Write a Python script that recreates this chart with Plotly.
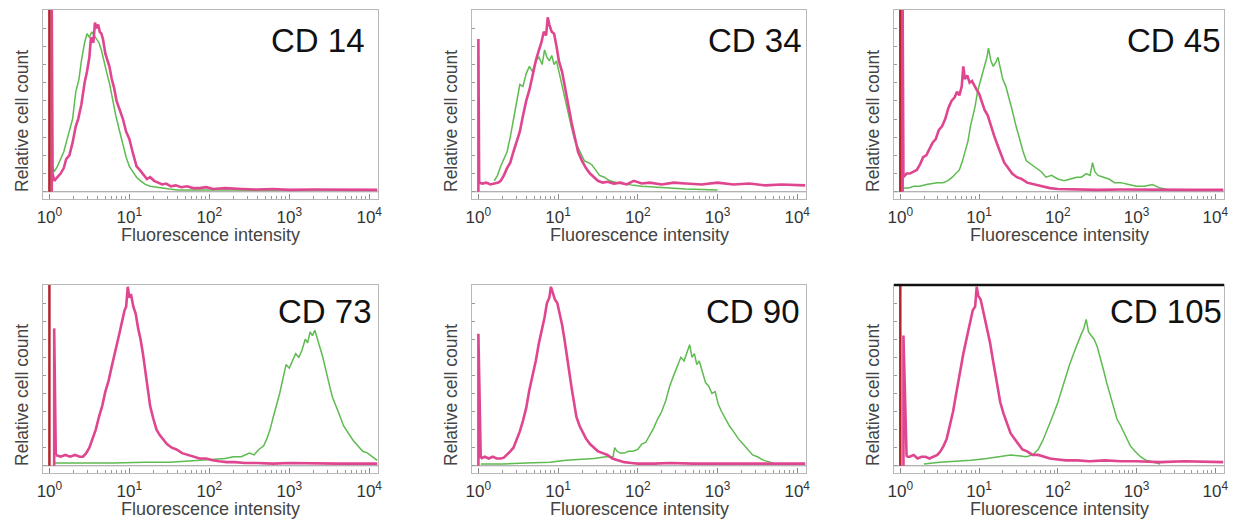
import plotly.graph_objects as go

# ---------------- data (x values are log10 fluorescence intensity) ----------------
MARKERS = ["CD 14", "CD 34", "CD 45", "CD 73", "CD 90", "CD 105"]

CD14_PINK_LOG = [0.04,0.06,0.10,0.14,0.18,0.21,0.25,0.29,0.33,0.36,0.40,0.44,0.47,0.50,0.52,0.55,0.57,0.59,0.61,0.63,0.65,0.67,0.70,0.73,0.75,0.78,0.81,0.84,0.88,0.92,0.96,1.00,1.04,1.09,1.13,1.18,1.22,1.26,1.31,1.36,1.41,1.46,1.52,1.58,1.65,1.72,1.80,1.88,1.96,2.05,2.2,2.4,2.6,2.8,3.0,3.3,3.6,3.9,4.1]
CD14_PINK_CNT = [0.10,0.06,0.08,0.10,0.13,0.18,0.20,0.27,0.36,0.40,0.48,0.60,0.66,0.74,0.85,0.82,0.93,0.90,0.92,0.88,0.87,0.84,0.76,0.72,0.69,0.62,0.57,0.50,0.45,0.40,0.33,0.29,0.22,0.14,0.12,0.09,0.07,0.08,0.06,0.05,0.04,0.045,0.03,0.035,0.025,0.03,0.02,0.02,0.025,0.015,0.02,0.015,0.012,0.015,0.01,0.012,0.01,0.012,0.01]
CD14_GREEN_LOG = [0.04,0.06,0.10,0.14,0.18,0.21,0.25,0.29,0.33,0.37,0.40,0.44,0.47,0.50,0.53,0.56,0.59,0.62,0.65,0.68,0.72,0.75,0.79,0.83,0.88,0.92,0.96,1.00,1.05,1.09,1.14,1.20,1.26,1.33,1.40,1.50,1.6,1.8,2.0,2.3,2.6,3.0,3.4,3.8,4.1]
CD14_GREEN_CNT = [0.14,0.11,0.14,0.18,0.22,0.27,0.33,0.40,0.55,0.62,0.72,0.82,0.87,0.85,0.88,0.86,0.84,0.82,0.78,0.72,0.65,0.60,0.50,0.42,0.33,0.26,0.19,0.14,0.11,0.08,0.06,0.04,0.03,0.025,0.02,0.015,0.01,0.012,0.01,0.01,0.008,0.01,0.008,0.01,0.01]

CD34_PINK_LOG = [0.01,0.05,0.10,0.15,0.20,0.25,0.28,0.32,0.36,0.40,0.44,0.48,0.52,0.56,0.60,0.64,0.68,0.72,0.76,0.79,0.82,0.85,0.87,0.89,0.92,0.95,0.98,1.01,1.05,1.09,1.13,1.17,1.21,1.25,1.30,1.35,1.40,1.45,1.50,1.56,1.62,1.70,1.78,1.86,1.95,2.05,2.15,2.3,2.45,2.6,2.8,3.0,3.2,3.4,3.6,3.8,4.0,4.1]
CD34_PINK_CNT = [0.05,0.045,0.05,0.04,0.045,0.05,0.06,0.09,0.13,0.16,0.22,0.28,0.33,0.42,0.50,0.56,0.64,0.72,0.78,0.82,0.88,0.86,0.96,0.92,0.88,0.87,0.80,0.72,0.66,0.56,0.46,0.38,0.30,0.22,0.17,0.13,0.10,0.08,0.06,0.05,0.055,0.045,0.05,0.04,0.06,0.045,0.05,0.04,0.05,0.045,0.04,0.05,0.04,0.045,0.035,0.04,0.035,0.035]
CD34_GREEN_LOG = [0.20,0.24,0.28,0.32,0.36,0.40,0.44,0.48,0.52,0.56,0.60,0.64,0.68,0.72,0.76,0.80,0.83,0.86,0.89,0.92,0.95,0.98,1.01,1.05,1.09,1.13,1.17,1.21,1.25,1.29,1.33,1.38,1.42,1.47,1.52,1.58,1.65,1.74,1.85,1.95,2.05,2.2,2.4,2.6,2.8,3.0]
CD34_GREEN_CNT = [0.06,0.09,0.14,0.18,0.22,0.30,0.40,0.50,0.59,0.58,0.65,0.69,0.66,0.72,0.74,0.70,0.78,0.74,0.72,0.75,0.70,0.72,0.66,0.59,0.50,0.42,0.35,0.28,0.24,0.20,0.17,0.16,0.15,0.12,0.09,0.08,0.06,0.05,0.04,0.035,0.03,0.025,0.02,0.015,0.012,0.01]

CD45_PINK_LOG = [0.04,0.08,0.12,0.17,0.21,0.25,0.29,0.33,0.37,0.41,0.45,0.49,0.53,0.57,0.61,0.65,0.69,0.72,0.75,0.78,0.80,0.82,0.85,0.88,0.91,0.94,0.97,1.00,1.03,1.07,1.11,1.15,1.19,1.24,1.28,1.32,1.37,1.42,1.48,1.54,1.61,1.70,1.80,1.90,2.0,2.2,2.5,2.8,3.1,3.4,3.7,4.0,4.1]
CD45_PINK_CNT = [0.08,0.10,0.10,0.11,0.12,0.15,0.19,0.20,0.24,0.27,0.29,0.34,0.36,0.40,0.46,0.50,0.52,0.55,0.53,0.58,0.69,0.62,0.64,0.60,0.61,0.58,0.56,0.54,0.50,0.45,0.42,0.36,0.31,0.25,0.21,0.16,0.13,0.10,0.08,0.07,0.05,0.04,0.03,0.02,0.015,0.012,0.01,0.012,0.01,0.012,0.01,0.01,0.01]
CD45_GREEN_LOG = [0.04,0.10,0.17,0.25,0.33,0.40,0.47,0.54,0.60,0.66,0.71,0.75,0.79,0.83,0.86,0.89,0.92,0.95,0.98,1.01,1.04,1.07,1.10,1.12,1.15,1.18,1.21,1.24,1.27,1.30,1.34,1.38,1.42,1.47,1.52,1.56,1.60,1.66,1.73,1.79,1.85,1.92,2.0,2.08,2.16,2.24,2.30,2.36,2.41,2.44,2.47,2.51,2.58,2.65,2.72,2.80,2.90,3.0,3.1,3.2,3.3,3.42,3.6,3.8,4.0,4.1]
CD45_GREEN_CNT = [0.02,0.02,0.03,0.03,0.04,0.045,0.05,0.05,0.06,0.08,0.10,0.12,0.17,0.23,0.28,0.36,0.42,0.47,0.55,0.60,0.64,0.70,0.74,0.79,0.72,0.69,0.71,0.74,0.68,0.62,0.58,0.52,0.45,0.36,0.28,0.22,0.17,0.15,0.13,0.11,0.08,0.09,0.07,0.06,0.07,0.08,0.08,0.10,0.09,0.16,0.11,0.09,0.08,0.07,0.05,0.05,0.04,0.03,0.03,0.04,0.02,0.01,0.01,0.01,0.01,0.01]

CD73_PINK_LOG = [0.08,0.14,0.20,0.26,0.32,0.38,0.42,0.46,0.50,0.54,0.58,0.62,0.66,0.70,0.74,0.78,0.82,0.85,0.88,0.91,0.94,0.96,0.98,1.00,1.02,1.05,1.08,1.11,1.14,1.17,1.20,1.23,1.26,1.30,1.34,1.38,1.42,1.47,1.53,1.59,1.66,1.73,1.80,1.88,1.96,2.04,2.12,2.22,2.32,2.45,2.6,2.8,3.0,3.3,3.6,3.9,4.1]
CD73_PINK_CNT = [0.06,0.05,0.06,0.05,0.06,0.05,0.05,0.07,0.10,0.15,0.20,0.27,0.33,0.41,0.47,0.55,0.62,0.68,0.74,0.80,0.86,0.88,0.99,0.93,0.95,0.88,0.84,0.76,0.70,0.62,0.52,0.42,0.33,0.26,0.20,0.17,0.15,0.12,0.10,0.09,0.07,0.06,0.05,0.04,0.04,0.03,0.025,0.02,0.02,0.015,0.015,0.012,0.015,0.012,0.012,0.012,0.012]
CD73_GREEN_LOG = [0.05,0.4,0.8,1.2,1.5,1.7,1.88,2.0,2.1,2.2,2.3,2.4,2.5,2.56,2.62,2.68,2.72,2.76,2.80,2.84,2.88,2.92,2.96,3.00,3.04,3.08,3.12,3.16,3.20,3.23,3.26,3.29,3.32,3.35,3.38,3.42,3.46,3.50,3.54,3.58,3.63,3.68,3.74,3.80,3.86,3.92,3.98,4.04,4.10]
CD73_GREEN_CNT = [0.015,0.015,0.015,0.02,0.02,0.025,0.03,0.035,0.04,0.04,0.05,0.05,0.07,0.06,0.09,0.11,0.15,0.20,0.27,0.33,0.40,0.48,0.56,0.54,0.58,0.62,0.60,0.64,0.70,0.68,0.74,0.72,0.75,0.70,0.66,0.60,0.52,0.45,0.38,0.33,0.28,0.22,0.18,0.14,0.11,0.08,0.07,0.05,0.03]

CD90_PINK_LOG = [0.03,0.08,0.13,0.18,0.23,0.28,0.32,0.36,0.40,0.44,0.48,0.52,0.56,0.60,0.64,0.68,0.72,0.76,0.80,0.83,0.86,0.89,0.91,0.93,0.96,0.99,1.02,1.05,1.08,1.11,1.14,1.17,1.20,1.23,1.27,1.31,1.35,1.40,1.45,1.50,1.56,1.62,1.68,1.75,1.83,1.92,2.0,2.2,2.4,2.7,3.0,3.3,3.6,3.9,4.1]
CD90_PINK_CNT = [0.04,0.05,0.04,0.05,0.04,0.04,0.045,0.06,0.08,0.10,0.14,0.19,0.25,0.32,0.42,0.50,0.58,0.68,0.76,0.82,0.90,0.93,0.99,0.96,0.92,0.90,0.84,0.78,0.70,0.62,0.52,0.43,0.34,0.27,0.22,0.18,0.15,0.12,0.10,0.08,0.07,0.06,0.04,0.03,0.02,0.015,0.012,0.012,0.015,0.012,0.012,0.012,0.012,0.012,0.012]
CD90_GREEN_LOG = [0.03,0.3,0.6,0.9,1.1,1.3,1.45,1.6,1.69,1.71,1.74,1.78,1.83,1.88,1.94,2.00,2.05,2.10,2.15,2.20,2.25,2.30,2.35,2.40,2.45,2.50,2.54,2.58,2.62,2.65,2.68,2.71,2.74,2.77,2.81,2.85,2.89,2.93,2.97,3.01,3.05,3.10,3.15,3.20,3.26,3.32,3.38,3.44,3.50,3.58,3.66,3.72]
CD90_GREEN_CNT = [0.01,0.01,0.015,0.02,0.03,0.035,0.04,0.05,0.05,0.10,0.08,0.07,0.07,0.08,0.08,0.09,0.12,0.13,0.17,0.21,0.26,0.30,0.36,0.44,0.50,0.55,0.60,0.58,0.63,0.67,0.60,0.62,0.56,0.58,0.52,0.46,0.44,0.40,0.41,0.34,0.30,0.26,0.22,0.19,0.15,0.12,0.09,0.06,0.05,0.03,0.02,0.01]

CD105_PINK_LOG = [0.08,0.12,0.17,0.22,0.27,0.32,0.37,0.42,0.47,0.51,0.55,0.59,0.63,0.67,0.71,0.74,0.77,0.80,0.83,0.86,0.89,0.92,0.95,0.97,0.99,1.02,1.05,1.08,1.11,1.14,1.17,1.20,1.23,1.27,1.31,1.35,1.40,1.45,1.50,1.55,1.61,1.68,1.75,1.82,1.90,2.0,2.1,2.25,2.4,2.6,2.8,3.0,3.3,3.6,3.9,4.1]
CD105_PINK_CNT = [0.05,0.05,0.06,0.04,0.05,0.05,0.04,0.05,0.06,0.08,0.11,0.15,0.22,0.30,0.40,0.48,0.55,0.62,0.68,0.74,0.80,0.86,0.88,0.99,0.94,0.92,0.86,0.80,0.74,0.68,0.60,0.53,0.44,0.35,0.29,0.24,0.18,0.15,0.12,0.09,0.08,0.06,0.06,0.05,0.04,0.035,0.03,0.03,0.025,0.03,0.025,0.025,0.02,0.025,0.02,0.02]
CD105_GREEN_LOG = [0.3,0.5,0.7,0.9,1.1,1.25,1.4,1.5,1.6,1.68,1.75,1.81,1.87,1.93,2.0,2.05,2.10,2.15,2.20,2.25,2.29,2.33,2.36,2.39,2.42,2.46,2.50,2.54,2.58,2.62,2.66,2.70,2.75,2.80,2.86,2.92,2.98,3.05,3.12,3.20,3.3]
CD105_GREEN_CNT = [0.01,0.02,0.025,0.03,0.04,0.05,0.06,0.055,0.05,0.06,0.09,0.14,0.20,0.27,0.35,0.42,0.50,0.56,0.62,0.68,0.72,0.76,0.81,0.74,0.72,0.70,0.66,0.60,0.53,0.46,0.40,0.33,0.26,0.22,0.16,0.11,0.08,0.05,0.03,0.02,0.01]

# first-channel pile-up spikes at 10^0
RED_SPIKE_HEIGHT = [1.0, 0.0, 1.0, 1.0, 0.0, 1.0]
PINK_SPIKE_LOG = [0.03, 0.0, 0.03, 0.06, 0.0, 0.04]
PINK_SPIKE_HEIGHT = [1.0, 0.84, 1.0, 0.76, 0.73, 0.72]

TICK_VALUES = [1, 10, 100, 1000, 10000]
TICK_LABELS = ["10<sup>0</sup>", "10<sup>1</sup>", "10<sup>2</sup>", "10<sup>3</sup>", "10<sup>4</sup>"]

PINK_SERIES = [(CD14_PINK_LOG, CD14_PINK_CNT), (CD34_PINK_LOG, CD34_PINK_CNT), (CD45_PINK_LOG, CD45_PINK_CNT),
               (CD73_PINK_LOG, CD73_PINK_CNT), (CD90_PINK_LOG, CD90_PINK_CNT), (CD105_PINK_LOG, CD105_PINK_CNT)]
GREEN_SERIES = [(CD14_GREEN_LOG, CD14_GREEN_CNT), (CD34_GREEN_LOG, CD34_GREEN_CNT), (CD45_GREEN_LOG, CD45_GREEN_CNT),
                (CD73_GREEN_LOG, CD73_GREEN_CNT), (CD90_GREEN_LOG, CD90_GREEN_CNT), (CD105_GREEN_LOG, CD105_GREEN_CNT)]

# ---------------- styling / layout ----------------
W, H = 1248, 520
COL_PX = [(43, 378), (472, 806), (894, 1224)]
ROW_PX = [(10, 199), (285, 473)]
PINK = "#e0468f"
GREEN = "#5dbb4f"
RED = "#b3252d"
FONT = "Liberation Sans"
LABEL_SHIFT = [-11, -2, -1, -4, -4, 0]

fig = go.Figure()
layout = dict(width=W, height=H, margin=dict(l=0, r=0, t=0, b=0, autoexpand=False),
              paper_bgcolor="white", plot_bgcolor="white", showlegend=False,
              annotations=[], shapes=[])

minor_vals = [m * 10 ** d for d in range(4) for m in range(2, 10)]

for i, name in enumerate(MARKERS):
    r, c = divmod(i, 3)
    n = "" if i == 0 else str(i + 1)
    xa, ya = "x" + n, "y" + n
    x0, x1 = COL_PX[c]
    y0, y1 = ROW_PX[r]
    layout["xaxis" + n] = dict(
        domain=[x0 / W, x1 / W], anchor=ya, type="log", range=[-0.08, 4.11], automargin=False,
        showline=True, mirror=True, linecolor="#b8b8b8", linewidth=1,
        showgrid=False, zeroline=False,
        tickmode="array", tickvals=TICK_VALUES, ticktext=TICK_LABELS,
        ticks="inside", ticklen=5, tickcolor="#888", ticklabelstandoff=3,
        minor=dict(ticks="inside", ticklen=3, tickcolor="#999", tickvals=minor_vals, showgrid=False),
        tickfont=dict(family=FONT, size=17, color="#333"),
    )
    layout["yaxis" + n] = dict(
        domain=[1 - y1 / H, 1 - y0 / H], anchor=xa, range=[-0.04, 1.0], automargin=False,
        showline=True, mirror=True, linecolor="#b8b8b8", linewidth=1,
        showgrid=False, zeroline=False, showticklabels=False,
        tickmode="linear", tick0=0, dtick=0.1, ticks="inside", ticklen=3, tickcolor="#999",
    )
    # baseline
    layout["shapes"].append(dict(type="line", xref=xa + " domain", yref=ya, x0=0, x1=1, y0=0, y1=0,
                                 line=dict(color="#999", width=1.2), layer="below"))
    # x-axis title
    layout["annotations"].append(dict(
        text="Fluorescence intensity", showarrow=False,
        xref=xa + " domain", yref="paper", x=0.5, y=1 - (y1 + 36) / H,
        xanchor="center", yanchor="middle",
        font=dict(family=FONT, size=18, color="#444")))
    # y-axis title
    layout["annotations"].append(dict(
        text="Relative cell count", textangle=-90, showarrow=False,
        xref="paper", yref="paper", x=(x0 - 21) / W, y=1 - (y1 - 78) / H,
        xanchor="center", yanchor="middle",
        font=dict(family=FONT, size=17.5, color="#444")))
    # marker label
    layout["annotations"].append(dict(
        text=name, showarrow=False, xref=xa + " domain", yref=ya + " domain",
        x=1, y=0.84 if r == 0 else 0.86, xanchor="right", yanchor="middle", xshift=LABEL_SHIFT[i],
        font=dict(family=FONT, size=33, color="#111")))

    gl, gc = GREEN_SERIES[i]
    fig.add_trace(go.Scatter(x=[10 ** v for v in gl], y=gc, mode="lines", xaxis=xa, yaxis=ya,
                             line=dict(color=GREEN, width=1.5)))
    pl, pc = PINK_SERIES[i]
    fig.add_trace(go.Scatter(x=[10 ** v for v in pl], y=pc, mode="lines", xaxis=xa, yaxis=ya,
                             line=dict(color=PINK, width=2.6)))
    # spikes
    sp = 10 ** PINK_SPIKE_LOG[i]
    fig.add_trace(go.Scatter(x=[sp, sp, 10 ** pl[0]], y=[0, PINK_SPIKE_HEIGHT[i], pc[0]], mode="lines",
                             xaxis=xa, yaxis=ya, line=dict(color=PINK, width=2.6)))
    if RED_SPIKE_HEIGHT[i] > 0:
        fig.add_trace(go.Scatter(x=[1, 1], y=[0, RED_SPIKE_HEIGHT[i]], mode="lines", xaxis=xa, yaxis=ya,
                                 line=dict(color=RED, width=2.5)))

# thick dark top border on the last panel
layout["shapes"].append(dict(type="line", xref="x6 domain", yref="y6 domain", x0=0, x1=1, y0=1, y1=1,
                             line=dict(color="#111", width=2.5)))

fig.update_layout(**layout)
fig.write_html("out.html", config={"displayModeBar": False},
               post_script="document.body.style.margin='0';document.body.style.overflow='hidden';")
